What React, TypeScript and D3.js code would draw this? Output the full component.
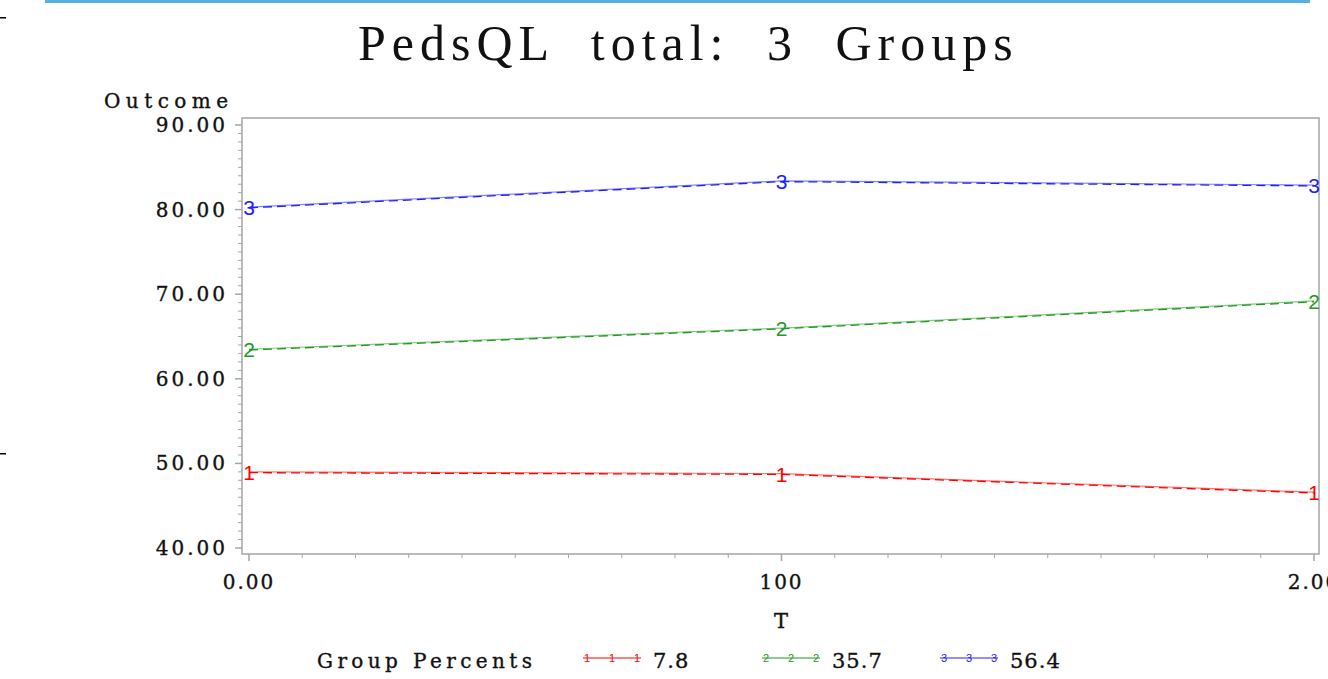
import React from 'react'
import * as d3 from 'd3'

// time points and group means
const times = [0, 100, 200]
const group1 = [49.0, 48.8, 46.6]
const group2 = [63.5, 66.0, 69.2]
const group3 = [80.3, 83.4, 82.9]
const groupLabels = ['1', '2', '3']
const groupPercents = ['7.8', '35.7', '56.4']
const groupColors = ['#ff0000', '#1f9a1f', '#2020ff']
const yTicks = [40, 50, 60, 70, 80, 90]
const xTickLabels = ['0.00', '100', '2.00']

const W = 1328
const H = 679
const frame = { left: 242, right: 1319, top: 118, bottom: 554 }

const serif = '"DejaVu Serif", serif'
const ink = '#111'

const App = () => {
    const x = d3.scaleLinear().domain([0, 200]).range([249, 1314])
    const y = d3.scaleLinear().domain([40, 90]).range([548, 125])

    const series = [group1, group2, group3]
    const line = d3
        .line<number>()
        .x((d, i) => x(times[i]))
        .y(d => y(d))

    const yMinor = d3.range(40, 91, 1).filter(v => v % 10 !== 0)
    const xMinor = d3.range(0, 201, 10).filter(v => v % 100 !== 0)

    const axisColor = '#a3a7ab'

    // shared look for the axis / legend texts
    const label = { fontFamily: serif, fill: ink, stroke: ink, strokeWidth: 0.35 }

    return (
        <div style={{ position: 'absolute', left: 0, top: 0 }}>
            <svg width={W} height={H} style={{ display: 'block', background: '#fff' }}>
                {/* bits of the page around the chart */}
                <rect x={45} y={0} width={1265} height={3} fill='#5aaee6' />
                <rect x={0} y={17} width={6} height={1.5} fill='#000' />
                <rect x={0} y={453} width={6} height={1.5} fill='#000' />

                <text
                    x={358}
                    y={60}
                    fontFamily='"Liberation Serif", serif'
                    fontSize={50}
                    letterSpacing={6}
                    wordSpacing={19}
                    fill={ink}
                >
                    PedsQL total: 3 Groups
                </text>

                {/* frame */}
                <rect
                    x={frame.left}
                    y={frame.top}
                    width={frame.right - frame.left}
                    height={frame.bottom - frame.top}
                    fill='none'
                    stroke={axisColor}
                    strokeWidth={1.5}
                />

                {/* y axis */}
                <text x={104} y={108} fontSize={20} textLength={124} lengthAdjust='spacing' {...label}>
                    Outcome
                </text>
                {yMinor.map(v => (
                    <line key={'ym' + v} x1={frame.left - 4} x2={frame.left} y1={y(v)} y2={y(v)} stroke={axisColor} />
                ))}
                {yTicks.map(v => (
                    <g key={'y' + v}>
                        <line x1={frame.left - 7} x2={frame.left} y1={y(v)} y2={y(v)} stroke={axisColor} strokeWidth={1.5} />
                        <text x={228} y={y(v) + 7} textAnchor='end' fontSize={20} letterSpacing={3} {...label}>
                            {v.toFixed(2)}
                        </text>
                    </g>
                ))}

                {/* x axis */}
                {xMinor.map(v => (
                    <line key={'xm' + v} x1={x(v)} x2={x(v)} y1={frame.bottom} y2={frame.bottom + 4} stroke={axisColor} />
                ))}
                {times.map((t, i) => (
                    <g key={'x' + t}>
                        <line x1={x(t)} x2={x(t)} y1={frame.bottom} y2={frame.bottom + 7} stroke={axisColor} strokeWidth={1.5} />
                        <text x={x(t)} y={589} textAnchor='middle' fontSize={20} letterSpacing={2} {...label}>
                            {xTickLabels[i]}
                        </text>
                    </g>
                ))}
                <text x={781} y={628} textAnchor='middle' fontSize={21} {...label}>
                    T
                </text>

                {/* series */}
                {series.map((s, k) => (
                    <g key={'s' + k}>
                        <path d={line(s) || ''} fill='none' stroke={groupColors[k]} strokeWidth={1.2} strokeOpacity={0.55} />
                        <path
                            d={line(s) || ''}
                            fill='none'
                            stroke={groupColors[k]}
                            strokeWidth={1.3}
                            strokeDasharray='9 5'
                            transform='translate(0,0.8)'
                        />
                        {s.map((v, i) => (
                            <text
                                key={i}
                                x={x(times[i])}
                                y={y(v) + 8}
                                textAnchor='middle'
                                fontFamily='"Liberation Sans", sans-serif'
                                fontSize={21}
                                fill={groupColors[k]}
                            >
                                {groupLabels[k]}
                            </text>
                        ))}
                    </g>
                ))}

                {/* legend */}
                <text x={317} y={668} fontSize={20} textLength={215} lengthAdjust='spacing' {...label}>
                    Group Percents
                </text>
                {groupPercents.map((p, k) => {
                    const x0 = [583, 762, 940][k]
                    return (
                        <g key={'l' + k}>
                            <line x1={x0} x2={x0 + 58} y1={658} y2={658} stroke={groupColors[k]} strokeWidth={1.2} />
                            {[4, 29, 54].map(dx => (
                                <text
                                    key={dx}
                                    x={x0 + dx}
                                    y={662}
                                    textAnchor='middle'
                                    fontFamily='"Liberation Sans", sans-serif'
                                    fontSize={11}
                                    fill={groupColors[k]}
                                >
                                    {groupLabels[k]}
                                </text>
                            ))}
                            <text x={x0 + 70} y={668} fontSize={21} letterSpacing={1} {...label}>
                                {p}
                            </text>
                        </g>
                    )
                })}
            </svg>
        </div>
    )
}

export default App
